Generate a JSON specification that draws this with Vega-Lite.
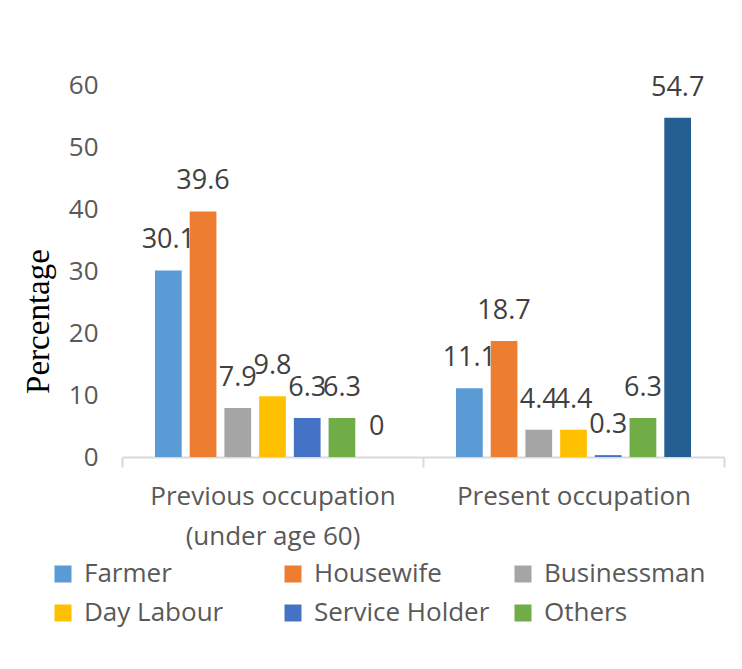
{
  "$schema": "https://vega.github.io/schema/vega-lite/v6.json",
  "width": 602,
  "height": 372,
  "autosize": {"type": "none"},
  "padding": {"left": 122, "top": 85, "right": 18, "bottom": 212},
  "background": "white",
  "config": {
    "view": {"stroke": null},
    "font": "Open Sans"
  },
  "data": {
    "values": [
      {"group": "Previous occupation (under age 60)", "series": "Farmer", "value": 30.1},
      {"group": "Previous occupation (under age 60)", "series": "Housewife", "value": 39.6},
      {"group": "Previous occupation (under age 60)", "series": "Businessman", "value": 7.9},
      {"group": "Previous occupation (under age 60)", "series": "Day Labour", "value": 9.8},
      {"group": "Previous occupation (under age 60)", "series": "Service Holder", "value": 6.3},
      {"group": "Previous occupation (under age 60)", "series": "Others", "value": 6.3},
      {"group": "Previous occupation (under age 60)", "series": "No occupation", "value": 0},
      {"group": "Present occupation", "series": "Farmer", "value": 11.1},
      {"group": "Present occupation", "series": "Housewife", "value": 18.7},
      {"group": "Present occupation", "series": "Businessman", "value": 4.4},
      {"group": "Present occupation", "series": "Day Labour", "value": 4.4},
      {"group": "Present occupation", "series": "Service Holder", "value": 0.3},
      {"group": "Present occupation", "series": "Others", "value": 6.3},
      {"group": "Present occupation", "series": "No occupation", "value": 54.7}
    ]
  },
  "encoding": {
    "x": {
      "field": "group",
      "type": "nominal",
      "sort": null,
      "scale": {"paddingInner": 0, "paddingOuter": 0},
      "axis": {
        "title": null,
        "labelAngle": 0,
        "labelFont": "Open Sans",
        "labelFontSize": 26,
        "labelColor": "#595959",
        "labelExpr": "datum.value == 'Previous occupation (under age 60)' ? ['Previous occupation', '(under age 60)'] : datum.value",
        "labelLineHeight": 40,
        "labelPadding": 16,
        "labelBaseline": "top",
        "tickBand": "extent",
        "tickSize": 10,
        "tickColor": "#d9d9d9",
        "tickWidth": 2,
        "domainColor": "#d9d9d9",
        "domainWidth": 2,
        "labelLimit": 400
      }
    },
    "xOffset": {
      "field": "series",
      "type": "nominal",
      "sort": null,
      "scale": {"paddingInner": 0.23, "paddingOuter": 0.95}
    },
    "y": {
      "field": "value",
      "type": "quantitative",
      "scale": {"domain": [0, 60], "nice": false},
      "axis": {
        "title": "Percentage",
        "titleFont": "Liberation Serif",
        "titleFontSize": 33,
        "titleFontWeight": "normal",
        "titleColor": "#000000",
        "titleAngle": -90,
        "titleAlign": "center",
        "titleBaseline": "alphabetic",
        "titleX": -74,
        "titleY": 236,
        "values": [0, 10, 20, 30, 40, 50, 60],
        "grid": false,
        "domain": false,
        "ticks": false,
        "tickSize": 0,
        "labelPadding": 24,
        "labelFont": "Open Sans",
        "labelFontSize": 26,
        "labelColor": "#595959"
      }
    }
  },
  "layer": [
    {
      "mark": {"type": "bar"},
      "encoding": {
        "color": {
          "field": "series",
          "type": "nominal",
          "sort": null,
          "scale": {
            "domain": ["Farmer", "Housewife", "Businessman", "Day Labour", "Service Holder", "Others", "No occupation"],
            "range": ["#5b9bd5", "#ed7d31", "#a5a5a5", "#ffc000", "#4472c4", "#70ad47", "#255e91"]
          },
          "legend": {
            "title": null,
            "values": ["Farmer", "Housewife", "Businessman", "Day Labour", "Service Holder", "Others"],
            "orient": "none",
            "legendX": -72,
            "legendY": 476,
            "direction": "horizontal",
            "columns": 3,
            "gridAlign": "all",
            "columnPadding": 20,
            "rowPadding": 13,
            "symbolType": "square",
            "symbolSize": 289,
            "symbolStrokeWidth": 0,
            "labelOffset": 8,
            "labelFont": "Open Sans",
            "labelFontSize": 26,
            "labelColor": "#595959",
            "labelLimit": 300
          }
        }
      }
    },
    {
      "mark": {
        "type": "text",
        "baseline": "alphabetic",
        "align": "center",
        "dy": -22,
        "font": "Open Sans",
        "fontSize": 27,
        "color": "#404040"
      },
      "encoding": {
        "text": {"field": "value", "type": "quantitative"}
      }
    }
  ]
}
